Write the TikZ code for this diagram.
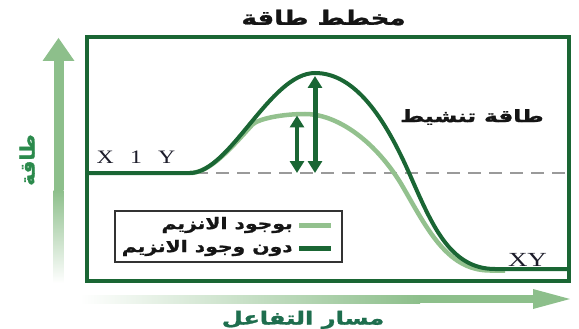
\documentclass[tikz,border=0pt]{standalone}
\usepackage{fontspec}
\setmainfont{Liberation Serif}
\newfontfamily\arabicfont[Script=Arabic, BoldFeatures={FakeBold=1.2}]{DejaVu Sans}
\TeXXeTstate=1
\usetikzlibrary{arrows.meta}
\definecolor{darkg}{HTML}{1A6634}
\definecolor{lightg}{HTML}{93C18E}
\definecolor{axisg}{HTML}{8DBF8B}
\definecolor{labelg}{HTML}{2B8A4C}
\definecolor{pathg}{HTML}{1E6E4E}
\definecolor{dashg}{HTML}{9A9A9A}
\definecolor{txt}{HTML}{151515}
\definecolor{ltxt}{HTML}{1C1C2A}
\begin{document}
\begin{tikzpicture}[x=1pt,y=-1pt,
  artext/.style={inner sep=0pt, text=txt, font=\arabicfont\bfseries\fontsize{#1}{#1}\selectfont},
  latext/.style={inner sep=0pt, text=ltxt, font=\fontsize{#1}{#1}\selectfont},
  dblarrow/.style={darkg, line width=#1, {Triangle[width=14pt,length=12pt]}-{Triangle[width=14pt,length=12pt]}},
  curve/.style={line width=#1, line cap=butt}]
\useasboundingbox (0,0) rectangle (579,329);
\clip (0,0) rectangle (579,329);
% axis arrows
\fill[axisg] (53.5,59) rectangle (63.5,190);
\shade[top color=axisg, bottom color=white] (53.5,190) rectangle (63.5,283);
\fill[axisg] (58.5,38) -- (74.5,61) -- (42.5,61) -- cycle;
\shade[left color=white, right color=axisg] (80,295) rectangle (420,303);
\fill[axisg] (420,295) rectangle (535,303);
\fill[axisg] (570,299) -- (533,289) -- (533,309) -- cycle;
% frame
\draw[darkg, line width=3.5] (87,37) rectangle (569,281);
% dashed base line
\coordinate (dashL) at (195,173);
\coordinate (dashR) at (567,173);
\draw[dashg, line width=1.3, dash pattern=on 13pt off 8pt] (dashL) -- (dashR);
% light curve (with enzyme)
\draw[lightg, curve=4.5] (190,173) .. controls (210,173) and (232,147) .. (252,125)
  .. controls (258,118.5) and (283,114) .. (305,114)
  .. controls (336,114) and (373,139) .. (400,182)
  .. controls (425,224) and (445,270.5) .. (490,270.5) -- (505,270.5);
% dark curve (without enzyme)
\draw[darkg, curve=4] (87,173) -- (190,173) .. controls (230,173) and (270,73) .. (315,73)
  .. controls (355,73) and (385,118) .. (410,175)
  .. controls (432,225) and (450,269) .. (495,269) -- (567.5,269);
% activation energy arrows
\coordinate (pkD) at (315,76);
\coordinate (bsD) at (315,173);
\coordinate (pkL) at (297,115.5);
\coordinate (bsL) at (297,173);
\draw[dblarrow=5] (pkD) -- (bsD);
\draw[dblarrow=4] (pkL) -- (bsL);
% texts
\node[artext=20, xscale=1.3] (title) at (323.5,17.5) {\beginR مخطط طاقة\endR};
\node[artext=17, xscale=1.36] (act) at (472,117) {\beginR طاقة تنشيط\endR};
\node[artext=20, text=labelg, rotate=90] (ylab) at (27,160) {\beginR طاقة\endR};
\node[artext=18, xscale=1.34, text=pathg, anchor=base] (xlab) at (303,324.5) {\beginR مسار التفاعل\endR};
\node[latext=19, xscale=1.25] (react) at (136,157) {X\hspace{13pt}1\hspace{13pt}Y};
\node[latext=20, xscale=1.35] (prod) at (527.5,260) {XY};
% legend
\node[draw=black!80, line width=1.4, minimum width=227pt, minimum height=51pt, inner sep=0pt] (legend) at (228.5,236.5) {};
\coordinate (l1a) at (299,225);
\coordinate (l1b) at (331,225);
\coordinate (l2a) at (299,248);
\coordinate (l2b) at (331,248);
\draw[lightg, line width=5] (l1a) -- (l1b);
\draw[darkg, line width=5] (l2a) -- (l2b);
\node[artext=16, xscale=1.27, anchor=east] (leg1) at (293,225) {\beginR بوجود الانزيم\endR};
\node[artext=16, xscale=1.27, anchor=east] (leg2) at (293,248) {\beginR دون وجود الانزيم\endR};
\end{tikzpicture}
\end{document}
